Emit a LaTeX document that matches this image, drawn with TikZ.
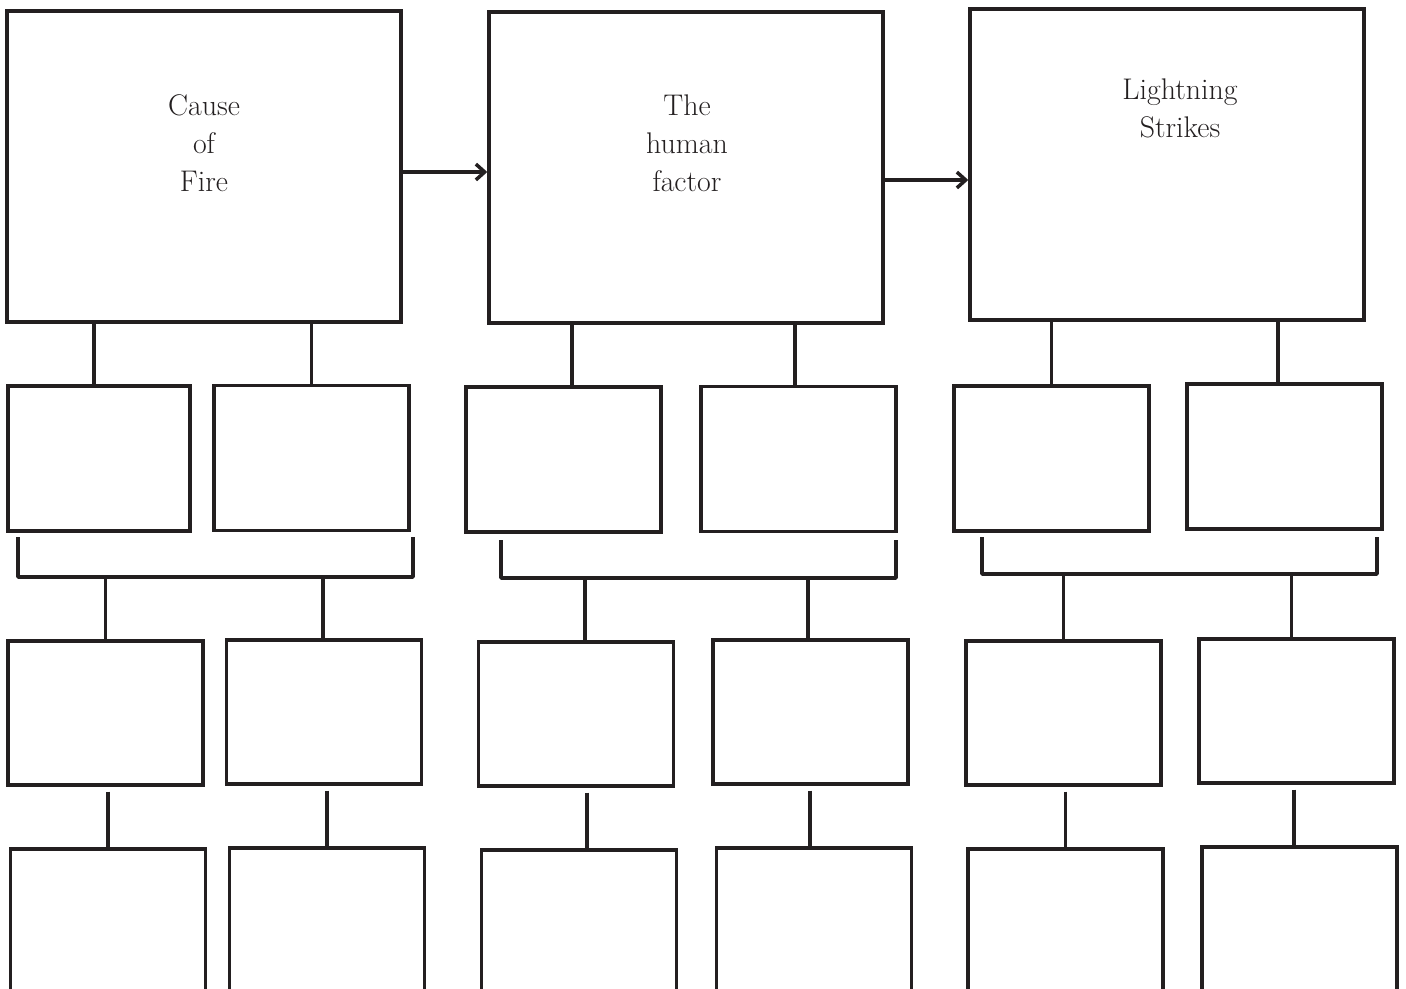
\documentclass[tikz,border=0pt]{standalone}
\usepackage{amsmath}
\usetikzlibrary{positioning,calc,arrows,arrows.meta}
\definecolor{ink}{HTML}{231F20}
\tikzset{font=\fontsize{17}{21.6}\selectfont}
\tikzset{
	bigbox/.style={draw=ink, line width=2pt, minimum width=7.88cm, minimum height=6.22cm, inner sep=0pt},
	subbox/.style={draw=ink, line width=2pt, minimum width=3.9cm, minimum height=2.9cm, inner sep=0pt},
	link/.style={draw=ink, line width=2pt},
	arr/.style={link, -{Straight Barb[length=5pt,width=9pt,line width=2pt]}}
}

\begin{document}
\begin{tikzpicture}[x=0.02cm, y=-0.02cm]
	\useasboundingbox (0,0) rectangle (1406,989);
	\begin{scope}
		\tikzstyle{every node}=[align=center, text=ink]
		% top row
		\node[bigbox] (A) at (204, 166.5) {};
		\node[bigbox] (B) at (686, 167.5) {};
		\node[bigbox] (C) at (1167, 164.5) {};
		\node (tA) at (204, 143) {Cause\\of\\Fire};
		\node (tB) at (687, 143) {The\\human\\factor};
		\node (tC) at (1180, 108) {Lightning\\Strikes};
		
		\coordinate (ab) at ($(A.east)+(0,5.5)$);
		\draw[arr] (ab) -- (ab -| B.west);
		\coordinate (bc) at ($(B.east)+(0,12.5)$);
		\draw[arr] (bc) -- (bc -| C.west);
		
		% second row
		\node[subbox, minimum width=3.64cm] (A2a) at (99, 458.5) {};
		\node[subbox] (A2b) at (311.5, 458) {};
		\node[subbox] (B2a) at (563.5, 459.5) {};
		\node[subbox] (B2b) at (798.5, 459) {};
		\node[subbox] (C2a) at (1051.5, 458.5) {};
		\node[subbox] (C2b) at (1284.5, 456.5) {};
		
		% third row
		\node[subbox, minimum height=2.88cm] (A3a) at (105.5, 713) {};
		\node[subbox, minimum height=2.88cm] (A3b) at (324, 712) {};
		\node[subbox, minimum height=2.88cm] (B3a) at (576, 714) {};
		\node[subbox, minimum height=2.88cm] (B3b) at (810.5, 712) {};
		\node[subbox, minimum height=2.88cm] (C3a) at (1063.5, 713) {};
		\node[subbox, minimum height=2.88cm] (C3b) at (1296.5, 711) {};
		
		% fourth row, cut off by the page
		\node[subbox, minimum height=3cm, anchor=north] (A4a) at (108, 847) {};
		\node[subbox, minimum height=3cm, anchor=north] (A4b) at (327, 846) {};
		\node[subbox, minimum height=3cm, anchor=north] (B4a) at (579, 848) {};
		\node[subbox, minimum height=3cm, anchor=north] (B4b) at (814, 846) {};
		\node[subbox, minimum height=3cm, anchor=north] (C4a) at (1065.5, 847) {};
		\node[subbox, minimum height=3cm, anchor=north] (C4b) at (1299.5, 845) {};
		
		% where the links meet the boxes
		\coordinate (A2at) at ($(A2a.north)+(-5,0)$);   \coordinate (A2bt) at (A2b.north);
		\coordinate (B2at) at ($(B2a.north)+(8.5,0)$);  \coordinate (B2bt) at ($(B2b.north)+(-3.5,0)$);
		\coordinate (C2at) at (C2a.north);              \coordinate (C2bt) at ($(C2b.north)+(-6.5,0)$);
		\coordinate (A3at) at (A3a.north);              \coordinate (A3bt) at ($(A3b.north)+(-1,0)$);
		\coordinate (B3at) at ($(B3a.north)+(9,0)$);    \coordinate (B3bt) at ($(B3b.north)+(-2.5,0)$);
		\coordinate (C3at) at (C3a.north);              \coordinate (C3bt) at ($(C3b.north)+(-5,0)$);
		\coordinate (A4at) at (A4a.north);              \coordinate (A4bt) at (A4b.north);
		\coordinate (B4at) at ($(B4a.north)+(8,0)$);    \coordinate (B4bt) at ($(B4b.north)+(-4,0)$);
		\coordinate (C4at) at (C4a.north);              \coordinate (C4bt) at ($(C4b.north)+(-5.5,0)$);
		
		% brackets
		\coordinate (Aleft) at (18, 537);   \coordinate (Aright) at (413, 537);
		\coordinate (Bleft) at (501, 540);  \coordinate (Bright) at (896, 540);
		\coordinate (Cleft) at (982, 537);  \coordinate (Cright) at (1377, 537);
		\coordinate (Abar) at (0, 577);
		\coordinate (Bbar) at (0, 578);
		\coordinate (Cbar) at (0, 574);
		
		\foreach \g in {A, B, C} {
			\draw[link] (\g.south -| \g2at) -- (\g2at);
			\draw[link] (\g.south -| \g2bt) -- (\g2bt);
			\draw[link, line join=round] (\g left) -- (\g left |- \g bar) -- (\g right |- \g bar) -- (\g right);
			\draw[link] (\g 3at |- \g bar) -- (\g 3at);
			\draw[link] (\g 3bt |- \g bar) -- (\g 3bt);
			\draw[link] ($(\g 3a.south -| \g 4at)+(0,5)$) -- (\g 4at);
			\draw[link] ($(\g 3b.south -| \g 4bt)+(0,5)$) -- (\g 4bt);
		}
	\end{scope}
\end{tikzpicture}
\end{document}
